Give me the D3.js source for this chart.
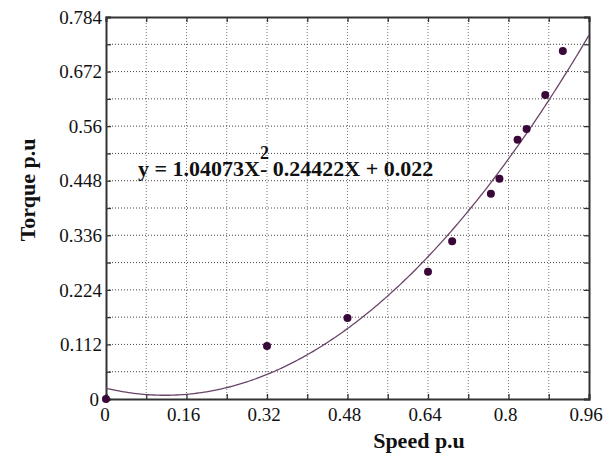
<!DOCTYPE html>
<html><head><meta charset="utf-8">
<script src="https://cdn.jsdelivr.net/npm/d3@7"></script>
<style>body{margin:0;background:#fff}svg{display:block}</style>
</head><body>
<svg id="c" width="611" height="460"></svg>
<script>
const speed  = [0, 0.32, 0.48, 0.64, 0.688, 0.765, 0.782, 0.818, 0.836, 0.873, 0.908];
const torque = [0, 0.109, 0.166, 0.261, 0.324, 0.421, 0.452, 0.532, 0.554, 0.624, 0.714];
const fitCoef = [1.04073, -0.24422, 0.022];
const xTicks = [0, 0.16, 0.32, 0.48, 0.64, 0.8, 0.96];
const yTicks = [0, 0.112, 0.224, 0.336, 0.448, 0.56, 0.672, 0.784];
const xGrid = d3.range(0, 13).map(i => +(i * 0.08).toFixed(2));
const yGrid = d3.range(0, 15).map(i => +(i * 0.056).toFixed(3));

const svg = d3.select("#c");
const L = 106, R = 589, T = 17, B = 399;
const x = d3.scaleLinear().domain([0, 0.96]).range([L, R]);
const y = d3.scaleLinear().domain([0, 0.784]).range([B, T]);
const serif = "'Liberation Serif','Times New Roman',serif";

// grid
svg.append("g").selectAll("line").data(xGrid.slice(1, -1)).join("line")
  .attr("x1", d => x(d)).attr("x2", d => x(d)).attr("y1", T).attr("y2", B)
  .attr("stroke", "#777").attr("stroke-width", 1).attr("stroke-dasharray", "1,2");
svg.append("g").selectAll("line").data(yGrid.slice(1, -1)).join("line")
  .attr("y1", d => y(d)).attr("y2", d => y(d)).attr("x1", L).attr("x2", R)
  .attr("stroke", "#444").attr("stroke-width", 1).attr("stroke-dasharray", "1,2");

// axes with inward ticks
const axB = d3.axisBottom(x).tickValues(xGrid).tickSize(-5).tickFormat("");
const axT = d3.axisTop(x).tickValues(xGrid).tickSize(-5).tickFormat("");
const axL = d3.axisLeft(y).tickValues(yGrid).tickSize(-5).tickFormat("");
const axR = d3.axisRight(y).tickValues(yGrid).tickSize(-5).tickFormat("");
[[axB, `translate(0,${B})`], [axT, `translate(0,${T})`], [axL, `translate(${L},0)`], [axR, `translate(${R},0)`]]
  .forEach(([ax, tr]) => {
    const g = svg.append("g").attr("transform", tr).call(ax);
    g.select(".domain").attr("stroke", "#333").attr("stroke-width", 2);
    g.selectAll(".tick line").attr("stroke", "#333").attr("stroke-width", 1.3);
  });

// tick labels
svg.append("g").selectAll("text").data(xTicks).join("text")
  .attr("x", d => x(d) - 3 + (d === 0 ? 2 : 0)).attr("y", 421).attr("text-anchor", "middle")
  .attr("font-family", serif).attr("font-size", 19).attr("fill", "#111")
  .text(d => String(d));
svg.append("g").selectAll("text").data(yTicks).join("text")
  .attr("x", d => d === 0 ? 99 : 102).attr("y", d => y(d)).attr("dy", "0.35em").attr("text-anchor", "end")
  .attr("font-family", serif).attr("font-size", 19).attr("fill", "#111")
  .text(d => String(d));

// fit curve
const f = v => fitCoef[0] * v * v + fitCoef[1] * v + fitCoef[2];
const xs = d3.range(0, 0.9601, 0.005);
svg.append("path").datum(xs)
  .attr("d", d3.line().x(d => x(d)).y(d => y(f(d))))
  .attr("fill", "none").attr("stroke", "#6a4468").attr("stroke-width", 1.3);

// points
svg.append("g").selectAll("circle").data(speed.map((s, i) => [s, torque[i]])).join("circle")
  .attr("cx", d => x(d[0])).attr("cy", d => y(d[1])).attr("r", 4)
  .attr("fill", "#3a0838");

// equation
const eq = svg.append("text").attr("x", 138).attr("y", 176)
  .attr("font-family", serif).attr("font-weight", "bold").attr("font-size", 22).attr("fill", "#111");
eq.append("tspan").text("y = 1.04073X");
eq.append("tspan").attr("dy", -17).attr("font-size", 18).text("2");
eq.append("tspan").attr("dy", 17).attr("dx", -9).text("- 0.24422X + 0.022");

// axis titles
svg.append("text").attr("x", 419).attr("y", 448).attr("text-anchor", "middle")
  .attr("font-family", serif).attr("font-weight", "bold").attr("font-size", 22).attr("fill", "#111")
  .text("Speed p.u");
svg.append("text").attr("transform", "translate(35,190) rotate(-90)").attr("text-anchor", "middle")
  .attr("font-family", serif).attr("font-weight", "bold").attr("font-size", 22).attr("fill", "#111")
  .text("Torque p.u");
</script>
</body></html>
